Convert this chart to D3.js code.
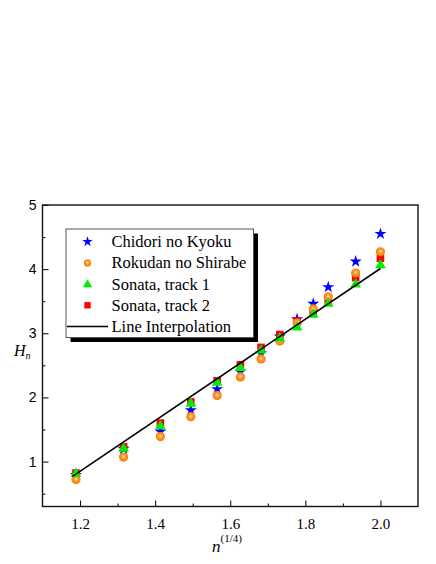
<!DOCTYPE html>
<html>
<head>
<meta charset="utf-8">
<script src="https://cdn.jsdelivr.net/npm/d3@7"></script>
<style>
  body { margin: 0; background: #fff; }
  svg { display: block; }
</style>
</head>
<body>
<div id="chart"></div>
<script>
// n^(1/4) positions
var xVals = [1.189, 1.316, 1.414, 1.495, 1.565, 1.627, 1.682, 1.732, 1.778, 1.821, 1.861, 1.934, 2.0];

// H_n for each piece
var chidori = [0.79, 1.20, 1.47, 1.80, 2.13, 2.40, 2.69, 2.95, 3.22, 3.46, 3.72, 4.12, 4.55];
var rokudan = [0.72, 1.07, 1.39, 1.70, 2.03, 2.32, 2.60, 2.88, 3.16, 3.38, 3.57, 3.94, 4.27];
var sonata1 = [0.82, 1.21, 1.56, 1.91, 2.24, 2.47, 2.74, 2.93, 3.10, 3.30, 3.47, 3.77, 4.07];
var sonata2 = [0.82, 1.23, 1.60, 1.93, 2.26, 2.51, 2.78, 2.98, 3.19, 3.34, 3.52, 3.87, 4.17];

// line interpolation end points
var lineX = [1.18, 2.0];
var lineY = [0.77, 4.01];

var xMajor = [1.2, 1.4, 1.6, 1.8, 2.0];
var xMinor = [1.3, 1.5, 1.7, 1.9];
var yMajor = [1, 2, 3, 4, 5];
var yMinor = [0.5, 1.5, 2.5, 3.5, 4.5];

var legendNames = ["Chidori no Kyoku", "Rokudan no Shirabe", "Sonata, track 1", "Sonata, track 2", "Line Interpolation"];

var svgW = 436, svgH = 564;
var plotL = 42.5, plotR = 418, plotT = 205, plotB = 506.5;

var svg = d3.select("#chart").append("svg")
    .attr("width", svgW)
    .attr("height", svgH);

var defs = svg.append("defs");
var grad = defs.append("radialGradient")
    .attr("id", "ball")
    .attr("cx", "50%").attr("cy", "45%").attr("r", "60%");
grad.append("stop").attr("offset", "0%").attr("stop-color", "#fff0d8");
grad.append("stop").attr("offset", "30%").attr("stop-color", "#ffa030");
grad.append("stop").attr("offset", "100%").attr("stop-color", "#f07000");

var x = d3.scaleLinear().domain([1.1, 2.1]).range([plotL, plotR]);
var y = d3.scaleLinear().domain([0.3, 5]).range([plotB, plotT]);

var axes = svg.append("g");

// bottom axis, ticks pointing inward
axes.append("g")
    .attr("transform", "translate(0," + plotB + ")")
    .call(d3.axisBottom(x).tickValues(xMinor).tickSize(-3).tickFormat(""))
    .call(function(g) { g.select(".domain").remove(); });
var xg = axes.append("g")
    .attr("transform", "translate(0," + plotB + ")")
    .call(d3.axisBottom(x).tickValues(xMajor).tickSize(-6).tickPadding(12).tickFormat(d3.format(".1f")));
xg.select(".domain").remove();
xg.selectAll("text")
    .attr("font-family", "'Liberation Serif', 'Times New Roman', serif")
    .attr("font-size", 15)
    .attr("fill", "#000");

// left axis
axes.append("g")
    .attr("transform", "translate(" + plotL + ",0)")
    .call(d3.axisLeft(y).tickValues(yMinor).tickSize(-3).tickFormat(""))
    .call(function(g) { g.select(".domain").remove(); });
var yg = axes.append("g")
    .attr("transform", "translate(" + plotL + ",0)")
    .call(d3.axisLeft(y).tickValues(yMajor).tickSize(-6).tickPadding(6).tickFormat(d3.format("d")));
yg.select(".domain").remove();
yg.selectAll("text")
    .attr("font-family", "'Liberation Sans', Arial, sans-serif")
    .attr("font-size", 14)
    .attr("fill", "#000");

axes.selectAll(".tick line").attr("stroke", "#000").attr("stroke-width", 1);

// frame
svg.append("rect")
    .attr("x", plotL).attr("y", plotT)
    .attr("width", plotR - plotL).attr("height", plotB - plotT)
    .attr("fill", "none")
    .attr("stroke", "#111")
    .attr("stroke-width", 1.4);

// data
function pts(vals) {
    return vals.map(function(v, i) { return { x: xVals[i], y: v }; });
}

var marks = svg.append("g");
var star = d3.symbol().type(d3.symbolStar).size(46);
var tri = d3.symbol().type(d3.symbolTriangle).size(50);

marks.selectAll(".star").data(pts(chidori)).enter().append("path")
    .attr("class", "star")
    .attr("d", star)
    .attr("transform", function(d) { return "translate(" + x(d.x) + "," + y(d.y) + ")"; })
    .attr("fill", "#0000ff");

marks.selectAll(".sq").data(pts(sonata2)).enter().append("rect")
    .attr("class", "sq")
    .attr("x", function(d) { return x(d.x) - 3.8; })
    .attr("y", function(d) { return y(d.y) - 3.8; })
    .attr("width", 7.6).attr("height", 7.6)
    .attr("fill", "#ff0000");

marks.selectAll(".ball").data(pts(rokudan)).enter().append("circle")
    .attr("class", "ball")
    .attr("cx", function(d) { return x(d.x); })
    .attr("cy", function(d) { return y(d.y); })
    .attr("r", 4.6)
    .attr("fill", "url(#ball)");

marks.selectAll(".tri").data(pts(sonata1)).enter().append("path")
    .attr("class", "tri")
    .attr("d", tri)
    .attr("transform", function(d) { return "translate(" + x(d.x) + "," + (y(d.y) + 0.5) + ")"; })
    .attr("fill", "#00ee00");

svg.append("line")
    .attr("x1", x(lineX[0])).attr("y1", y(lineY[0]))
    .attr("x2", x(lineX[1])).attr("y2", y(lineY[1]))
    .attr("stroke", "#000")
    .attr("stroke-width", 1.6);

// legend
var lg = svg.append("g");
var lx = 66, ly = 229, lw = 187.5, lh = 108.5;
lg.append("rect")
    .attr("x", lx + 4.5).attr("y", ly + 4.5)
    .attr("width", lw).attr("height", lh)
    .attr("fill", "#000");
lg.append("rect")
    .attr("x", lx).attr("y", ly)
    .attr("width", lw).attr("height", lh)
    .attr("fill", "#fff")
    .attr("stroke", "#555")
    .attr("stroke-width", 1);

var rowY = function(i) { return ly + 12.7 + i * 21.2; };
var symX = lx + 21.5;

lg.append("path").attr("d", d3.symbol().type(d3.symbolStar).size(34))
    .attr("transform", "translate(" + symX + "," + rowY(0) + ")")
    .attr("fill", "#0000ff");
lg.append("circle").attr("cx", symX).attr("cy", rowY(1)).attr("r", 3.6)
    .attr("fill", "url(#ball)");
lg.append("path").attr("d", d3.symbol().type(d3.symbolTriangle).size(38))
    .attr("transform", "translate(" + symX + "," + (rowY(2) + 0.5) + ")")
    .attr("fill", "#00ee00");
lg.append("rect").attr("x", symX - 3.2).attr("y", rowY(3) - 3.2)
    .attr("width", 6.4).attr("height", 6.4)
    .attr("fill", "#ff0000");
lg.append("line")
    .attr("x1", lx + 1).attr("x2", lx + 42)
    .attr("y1", rowY(4)).attr("y2", rowY(4))
    .attr("stroke", "#000").attr("stroke-width", 1.4);

lg.selectAll(".lt").data(legendNames).enter().append("text")
    .attr("class", "lt")
    .attr("x", lx + 45.5)
    .attr("y", function(d, i) { return rowY(i) + 5.5; })
    .attr("font-family", "'Liberation Serif', 'Times New Roman', serif")
    .attr("font-size", 16.5)
    .attr("fill", "#000")
    .text(function(d) { return d; });

// axis titles
var yt = svg.append("text")
    .attr("x", 14)
    .attr("y", 356)
    .attr("font-family", "'Liberation Serif', 'Times New Roman', serif")
    .attr("font-style", "italic")
    .attr("font-size", 16)
    .attr("fill", "#000");
yt.append("tspan").text("H");
yt.append("tspan").attr("font-size", 10).attr("dy", 3).text("n");

var xt = svg.append("text")
    .attr("x", 212)
    .attr("y", 552)
    .attr("font-family", "'Liberation Serif', 'Times New Roman', serif")
    .attr("font-size", 17)
    .attr("fill", "#000");
xt.append("tspan").attr("font-style", "italic").text("n");
xt.append("tspan").attr("font-size", 11).attr("dy", -10).text("(1/4)");
</script>
</body>
</html>
